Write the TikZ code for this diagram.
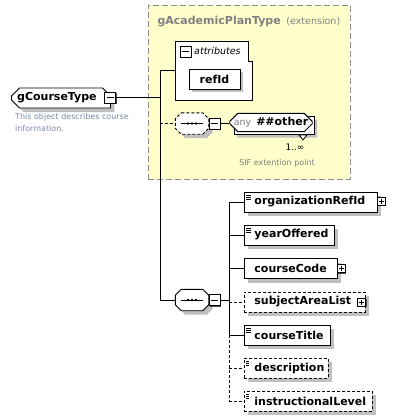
\documentclass[tikz,border=0pt]{standalone}
\usepackage{fontspec}
\setmainfont{DejaVu Sans}
\usetikzlibrary{shapes.misc,shadows}
\definecolor{planfill}{RGB}{255,255,204}
\definecolor{planline}{RGB}{140,140,140}
\definecolor{shade}{RGB}{192,192,192}
\definecolor{doctext}{RGB}{120,138,165}
\definecolor{hint}{RGB}{128,128,128}
\tikzset{
  wire/.style={line width=0.9pt},
  optional/.style={dash pattern=on 3pt off 2pt},
  boxshadow/.style={drop shadow={shadow xshift=4pt,shadow yshift=-4pt,fill=shade,opacity=1}},
  namefont/.style={font=\fontsize{11}{13}\selectfont\bfseries},
  elem/.style={draw, fill=white, line width=0.9pt, anchor=west, minimum height=20pt,
    inner sep=0pt, text width=#1, align=left, namefont, boxshadow,
    execute at begin node={\noindent\hspace*{10pt}}},
  docicon/.style={path picture={\foreach \k in {3,5,7}
    \draw[line width=0.6pt] ([xshift=2pt,yshift=-\k pt]path picture bounding box.north west) -- ++(5pt,0pt);}},
  xbox/.style={draw, fill=white, line width=0.8pt, minimum size=#1, inner sep=0pt,
    drop shadow={shadow xshift=1pt,shadow yshift=-1pt,fill=black!70,opacity=1}},
  minusx/.style={xbox=11pt, path picture={
    \draw[line width=0.8pt] ([xshift=2pt]path picture bounding box.west) -- ([xshift=-2pt]path picture bounding box.east);}},
  plusx/.style={xbox=8pt, path picture={
    \draw[line width=0.7pt] ([xshift=1.5pt]path picture bounding box.west) -- ([xshift=-1.5pt]path picture bounding box.east);
    \draw[line width=0.7pt] ([yshift=-1.5pt]path picture bounding box.north) -- ([yshift=1.5pt]path picture bounding box.south);}},
  seqbox/.style={minimum width=33pt, minimum height=21pt, inner sep=0pt},
  seqline/.style={draw, fill=white, line width=0.9pt, boxshadow},
  anybox/.style={chamfered rectangle, chamfered rectangle xsep=4pt, chamfered rectangle ysep=4pt,
    draw, fill=white, line width=0.9pt, minimum width=80pt, minimum height=18pt, inner sep=0pt},
  planbox/.style={draw=planline, fill=planfill, line width=0.9pt, dash pattern=on 6pt off 3pt,
    anchor=north west, inner sep=0pt}
}
%% octagon outline round a node, then the sequence mark inside it
\newcommand{\seqmark}[2][]{%
  \draw[seqline,#1] ([xshift=6pt]#2.north west) -- ([xshift=-6pt]#2.north east) -- ([yshift=-6pt]#2.north east)
      -- ([yshift=6pt]#2.south east) -- ([xshift=-6pt]#2.south east) -- ([xshift=6pt]#2.south west)
      -- ([yshift=6pt]#2.south west) -- ([yshift=-6pt]#2.north west) -- cycle;
  \draw[line width=0.9pt] ([xshift=-11pt]#2.center) -- ([xshift=11pt]#2.center);
  \foreach \d in {-4,0,4} \fill ([xshift=\d pt]#2.center) circle [radius=1.4pt];}
\begin{document}
\begin{tikzpicture}[x=1pt,y=-1pt]
    \useasboundingbox (0,0) rectangle (406,420);
    %% Extension base
    \node[planbox, minimum width=202pt, minimum height=174pt] (plan) at (148,5) {};
    \node[anchor=west, namefont, text=hint] (plantitle) at (154,22) {gAcademicPlanType};
    \node[anchor=base west, font=\fontsize{9.5}{11}\selectfont, text=hint, inner xsep=2pt] (planext) at (plantitle.base east) {(extension)};
    %% Attributes
    \node[anchor=north west, minimum width=77pt, minimum height=59pt, inner sep=0pt] (attr) at (175,41) {};
        \draw[fill=white, line width=0.9pt] (attr.north west) -- ++(73pt,0pt) -- ++(0pt,-20pt) -- ++(4pt,0pt) |- (attr.south west) -- cycle;
    \node[minusx] (attrx) at (185.5,51.5) {};
    \node[anchor=west, font=\fontsize{9.5}{11}\selectfont\itshape, inner sep=0pt] (attrlabel) at (194,51) {attributes};
    \node[draw, fill=white, line width=0.9pt, minimum width=51pt, minimum height=20pt, inner sep=0pt,
        namefont, drop shadow={shadow xshift=3pt,shadow yshift=-3pt,fill=shade,opacity=1}] (refid) at (214.5,79) {refId};
    %% Root type
    \node[chamfered rectangle, chamfered rectangle xsep=4pt, chamfered rectangle ysep=4pt,
        chamfered rectangle corners={north west,south west,north east},
        draw, fill=white, line width=0.9pt, minimum width=99pt, minimum height=20pt, inner sep=0pt,
        namefont, boxshadow, anchor=west] (root) at (11,98) {gCourseType\hspace*{8pt}};
    \node[minusx] (rootx) at (110,97.5) {};
    \node[anchor=north west, align=left, font=\fontsize{8}{12}\selectfont, text=doctext, inner sep=0pt] (rootdoc) at (15,113)
        {This object describes course\\information.};
    %% Wildcard sequence
    \node[seqbox] (seqa) at (192,123.5) {};
        \seqmark[optional]{seqa}
    \node[minusx] (seqax) at (214.5,123.5) {};
    \node[anybox, drop shadow={shadow xshift=3pt,shadow yshift=-3pt,fill=shade,opacity=1}] (anyb) at (274,125.5) {};
    \node[anybox] (any) at (271,122.5)
        {\textcolor{hint}{\fontsize{9.5}{11}\selectfont any}\hspace{5pt}{\fontsize{11}{13}\selectfont\bfseries\#\#other}};
        \draw[fill=white, line width=0.8pt] ([xshift=25pt]anyb.south) -- ([xshift=33pt]anyb.south) -- ([xshift=29pt,yshift=-5pt]anyb.south) -- cycle;
    \node[font=\fontsize{9}{11}\selectfont] (anyocc) at (295,147) {1..∞};
    \node[font=\fontsize{8}{10}\selectfont, text=hint] (anydoc) at (277,163) {SIF extention point};
    %% Content sequence
    \node[seqbox] (seqb) at (192,300) {};
        \seqmark{seqb}
    \node[minusx] (seqbx) at (214.5,300) {};
    \node[elem=133pt, docicon] (c1) at (244,202) {organizationRefId};
    \node[plusx] (c1x) at (381,201) {};
    \node[elem=90pt, docicon] (c2) at (244,235) {yearOffered};
    \node[elem=93pt] (c3) at (244,268.5) {courseCode};
    \node[plusx] (c3x) at (341,268.5) {};
    \node[elem=121pt, optional] (c4) at (244,302) {subjectAreaList};
    \node[plusx] (c4x) at (361.5,302) {};
    \node[elem=86pt, docicon] (c5) at (244,335) {courseTitle};
    \node[elem=84pt, docicon, optional] (c6) at (244,368) {description};
    \node[elem=128pt, docicon, optional] (c7) at (244,401) {instructionalLevel};
    %% Connectors
    \coordinate (spine) at (160,300);
    \coordinate (bus) at (229,0);
    \draw[wire] (rootx.east) -- (rootx.east -| spine);
    \draw[wire] (attr.west) -| (spine) -- (seqb.west);
    \draw[wire, optional] (seqa.west -| spine) -- (seqa.west);
    \draw[wire] (seqax.east) -- (seqax.east -| any.west);
    \draw[wire] (seqbx.east) -- (seqbx.east -| bus);
    \draw[wire] (bus |- c1.west) -- (bus |- c5.west);
    \draw[wire, optional] (bus |- c5.west) -- (bus |- c7.west);
    \foreach \c in {c1,c2,c3,c5}
        \draw[wire] (bus |- \c.west) -- (\c.west);
    \foreach \c in {c4,c6,c7}
        \draw[wire, optional] (bus |- \c.west) -- (\c.west);
\end{tikzpicture}
\end{document}
